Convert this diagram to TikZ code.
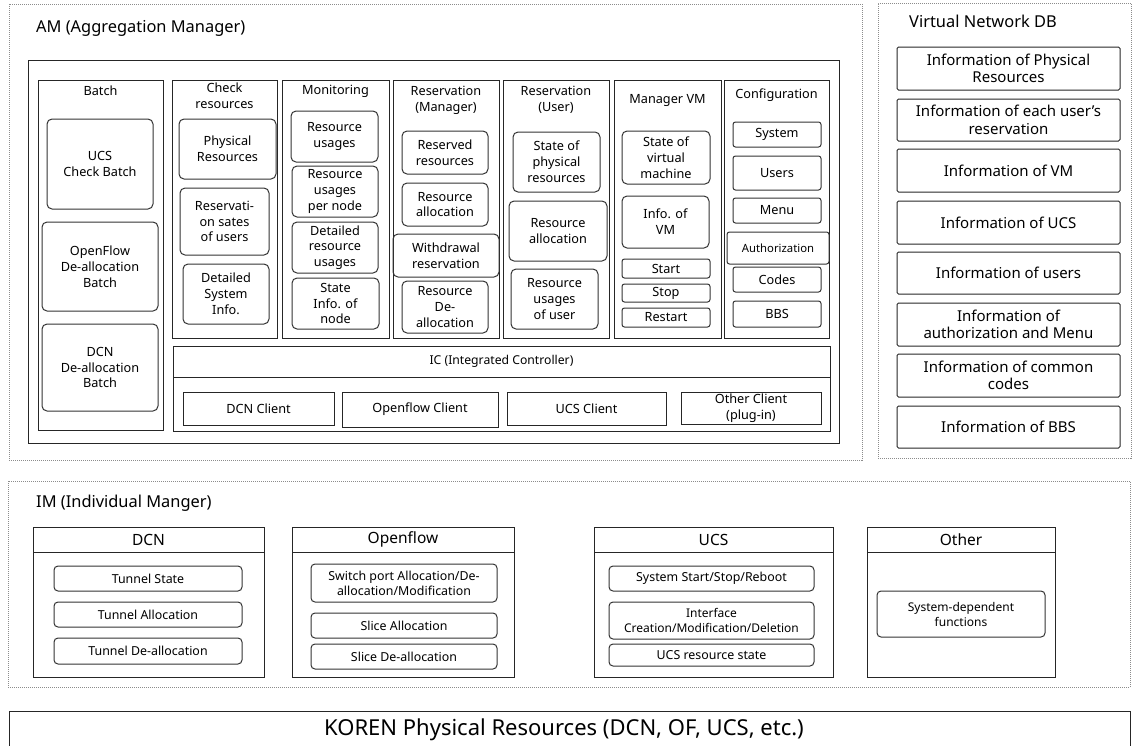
\documentclass[tikz,border=0pt]{standalone}
\usepackage{fontspec}
\setmainfont{Noto Sans}
\newcommand{\bx}[7]{\node[#6, minimum width=#4pt-#2pt, minimum height=#5pt-#3pt] (#1) at ({(#2+#4)/2},{(#3+#5)/2}) {#7};}
\tikzset{
  fmid/.style={font=\fontsize{12.7}{15.8}\selectfont},
  lbl/.style={inner sep=0pt, align=center, fmid},
  rbox/.style={draw=black!80, line width=1pt, rounded corners=5pt, inner sep=0pt, align=center, fmid},
  rsmall/.style={rbox, rounded corners=2.5pt},
  sbox/.style={draw=black!85, line width=1pt, inner sep=0pt, align=center, fmid},
  dbbox/.style={draw=black!85, line width=1pt, rounded corners=1.5pt, inner sep=0pt, align=center, font=\fontsize{15}{17.5}\selectfont},
  imitem/.style={rbox, rounded corners=4pt, font=\fontsize{12.4}{15}\selectfont},
  hdr/.style={sbox, font=\fontsize{15.5}{18}\selectfont},
  dotframe/.style={draw=black!45, line width=0.8pt, dash pattern=on 1pt off 1pt},
  bigtitle/.style={inner sep=0pt, anchor=west, font=\fontsize{16.4}{19}\selectfont},
}
\begin{document}
\begin{tikzpicture}[x=1pt, y=-1pt]
\useasboundingbox (0,0) rectangle (1135,745);
% ---------- AM ----------
\bx{amframe}{9}{4}{862}{460}{dotframe}{}
\node[bigtitle] (amtitle) at (36,28.5) {AM (Aggregation Manager)};
\bx{aminner}{28}{60}{839}{443}{sbox}{}
% Batch
\bx{batch}{38}{80}{163}{430}{sbox}{}
\node[lbl] (batchT) at (100.5,91) {Batch};
\bx{ucsb}{47}{119}{153}{209}{rbox}{UCS\\Check Batch}
\bx{ofb}{42}{222}{158}{311}{rbox}{OpenFlow\\De-allocation\\Batch}
\bx{dcnb}{42}{324}{158}{411}{rbox}{DCN\\De-allocation\\Batch}
% Check resources
\bx{chk}{172}{80}{277}{338}{sbox}{}
\node[lbl] (chkT) at (224.5,95.5) {Check\\resources};
\bx{phys}{179}{119}{276}{179}{rbox}{Physical\\Resources}
\bx{rsu}{180}{188}{269}{255}{rbox}{Reservati-\\on sates\\of users}
\bx{dsi}{183}{264}{269}{324}{rbox}{Detailed\\System\\Info.}
% Monitoring
\bx{mon}{282}{80}{389}{338}{sbox}{}
\node[lbl] (monT) at (335.5,91) {Monitoring};
\bx{ru}{291}{111}{378}{162}{rbox}{Resource\\usages}
\bx{rupn}{292}{166}{378}{217}{rbox}{Resource\\usages\\per node}
\bx{dru}{292}{222}{378}{273}{rbox}{Detailed\\resource\\usages}
\bx{sin}{292}{278}{379}{329}{rbox}{State\\Info. of\\node}
% Reservation (Manager)
\bx{resm}{393}{80}{499}{338}{sbox}{}
\node[lbl] (resmT) at (446,100) {Reservation\\(Manager)};
\bx{rr}{402}{131}{488}{174}{rbox}{Reserved\\resources}
\bx{ra}{402}{183}{488}{226}{rbox}{Resource\\allocation}
\bx{wr}{393}{234}{499}{277}{rbox}{Withdrawal\\reservation}
\bx{rd}{402}{281}{488}{333}{rbox}{Resource\\De-\\allocation}
% Reservation (User)
\bx{resu}{503}{80}{609}{338}{sbox}{}
\node[lbl] (resuT) at (556,100) {Reservation\\(User)};
\bx{spr}{513}{132}{600}{192}{rbox}{State of\\physical\\resources}
\bx{rau}{509}{201}{607}{261}{rbox}{Resource\\allocation}
\bx{ruu}{511}{269}{598}{329}{rbox}{Resource\\usages\\of user}
% Manager VM
\bx{mvm}{614}{80}{721}{338}{sbox}{}
\node[lbl] (mvmT) at (667.5,100) {Manager VM};
\bx{svm}{622}{131}{710}{184}{rbox}{State of\\virtual\\machine}
\bx{ivm}{622}{196}{709}{248}{rbox}{Info. of\\VM}
\bx{vstart}{622}{259}{710}{278}{rsmall}{Start}
\bx{vstop}{622}{284}{710}{302}{rsmall}{Stop}
\bx{vrestart}{622}{308}{710}{327}{rsmall}{Restart}
% Configuration
\bx{cfg}{724}{80}{829}{338}{sbox}{}
\node[lbl] (cfgT) at (776.5,95) {Configuration};
\bx{csys}{733}{122}{821}{147}{rsmall}{System}
\bx{cusr}{733}{156}{821}{190}{rsmall}{Users}
\bx{cmenu}{733}{198}{821}{223}{rsmall}{Menu}
\bx{cauth}{727}{232}{829}{264}{rsmall, font=\fontsize{11.3}{13}\selectfont}{Authorization}
\bx{ccodes}{733}{267}{821}{292}{rsmall}{Codes}
\bx{cbbs}{733}{301}{821}{327}{rsmall}{BBS}
% IC
\bx{ich}{173}{346}{830}{377}{sbox, font=\fontsize{12.2}{15}\selectfont}{IC (Integrated Controller)}
\bx{icb}{173}{377}{830}{431}{sbox}{}
\bx{dcnc}{183}{392}{334}{425}{sbox}{DCN Client}
\bx{ofc}{342}{392}{498}{427}{sbox}{Openflow Client}
\bx{ucsc}{507}{392}{666}{425}{sbox}{UCS Client}
\bx{othc}{681}{392}{821}{424}{sbox}{Other Client\\(plug-in)}
% ---------- Virtual Network DB ----------
\bx{vdb}{878}{3}{1131}{458}{dotframe}{}
\node[bigtitle] (vdbT) at (909,21) {Virtual Network DB};
\bx{db1}{897}{47}{1120}{90}{dbbox}{Information of Physical\\Resources}
\bx{db2}{897}{99}{1120}{141}{dbbox}{Information of each user's\\reservation}
\bx{db3}{897}{149}{1120}{192}{dbbox}{Information of VM}
\bx{db4}{897}{201}{1120}{244}{dbbox}{Information of UCS}
\bx{db5}{897}{252}{1120}{294}{dbbox}{Information of users}
\bx{db6}{897}{303}{1120}{346}{dbbox}{Information of\\authorization and Menu}
\bx{db7}{897}{354}{1120}{397}{dbbox}{Information of common\\codes}
\bx{db8}{897}{406}{1120}{448}{dbbox}{Information of BBS}
% ---------- IM ----------
\bx{imframe}{8}{481}{1130}{687}{dotframe}{}
\node[bigtitle] (imT) at (36,503) {IM (Individual Manger)};
% DCN
\bx{dcnh}{33}{527}{264}{552}{hdr}{DCN}
\bx{dcnbody}{33}{552}{264}{677}{sbox}{}
\bx{ts}{54}{566}{242}{591}{imitem}{Tunnel State}
\bx{ta}{54}{602}{242}{627}{imitem}{Tunnel Allocation}
\bx{td}{54}{638}{242}{664}{imitem}{Tunnel De-allocation}
% Openflow
\bx{ofh}{292}{527}{514}{552}{hdr}{Openflow}
\bx{ofbody}{292}{552}{514}{677}{sbox}{}
\bx{sp}{311}{564}{497}{602}{imitem}{Switch port Allocation/De-\\allocation/Modification}
\bx{sa}{311}{613}{497}{638}{imitem}{Slice Allocation}
\bx{sd}{311}{644}{497}{669}{imitem}{Slice De-allocation}
% UCS
\bx{ucsh}{594}{527}{833}{552}{hdr}{UCS}
\bx{ucsbody}{594}{552}{833}{677}{sbox}{}
\bx{ss}{609}{566}{814}{591}{imitem}{System Start/Stop/Reboot}
\bx{icmd}{609}{602}{814}{639}{imitem, font=\fontsize{12}{15}\selectfont}{Interface\\Creation/Modification/Deletion}
\bx{urs}{609}{644}{814}{666}{imitem}{UCS resource state}
% Other
\bx{oth}{867}{527}{1055}{552}{hdr}{Other}
\bx{othbody}{867}{552}{1055}{677}{sbox}{}
\bx{sdf}{877}{591}{1045}{637}{imitem, font=\fontsize{12}{15}\selectfont}{System-dependent\\functions}
% ---------- KOREN ----------
\bx{koren}{9}{711}{1130}{752}{sbox}{}
\node[inner sep=0pt, font=\fontsize{22}{26}\selectfont] (korenT) at (564,730) {KOREN Physical Resources (DCN, OF, UCS, etc.)};
\end{tikzpicture}
\end{document}
